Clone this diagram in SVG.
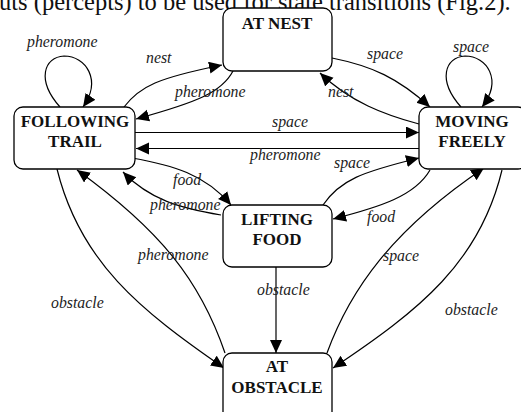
<svg xmlns="http://www.w3.org/2000/svg" width="521" height="412" viewBox="0 0 521 412">
<style>
text{font-family:'Liberation Serif','Times New Roman',Times,'DejaVu Serif',serif}
.box{fill:#fff;stroke:#000;stroke-width:1.3}
.nt{font-weight:bold;font-size:17px;text-anchor:middle;fill:#111}
.lb{font-style:italic;font-size:15.8px;fill:#222}
.e{fill:none;stroke:#000;stroke-width:1.2}
.cap{font-size:24.5px;fill:#111}
</style>
<defs>
<marker id="ah" markerWidth="14" markerHeight="13" refX="13" refY="6" orient="auto" markerUnits="userSpaceOnUse">
<path d="M0,0 L13,6 L0,12 z" fill="#000"/>
</marker>
</defs>
<rect width="521" height="412" fill="#fff"/>
<text class="cap" x="-1" y="10">uts (percepts) to be used for state transitions (Fig.2).</text>
<g id="connectors">
<path class="e" d="M60 107 C36 80 44 57 64 56 C86 56 102 80 83 107" marker-end="url(#ah)"/>
<path class="e" d="M461 107 C437 80 445 57 465 56 C487 56 503 80 482 107" marker-end="url(#ah)"/>
<path class="e" d="M124 107 C140 86 158 78 222 65" marker-end="url(#ah)"/>
<path class="e" d="M233 71 C222 92 198 102 136 119" marker-end="url(#ah)"/>
<path class="e" d="M332 58 C372 66 398 78 430 107" marker-end="url(#ah)"/>
<path class="e" d="M419 124 C385 115 350 102 320 73" marker-end="url(#ah)"/>
<path class="e" d="M135 132.5 L419 132.5" marker-end="url(#ah)"/>
<path class="e" d="M419 148.5 L136 148.5" marker-end="url(#ah)"/>
<path class="e" d="M132 158 C172 165 205 174 231 205" marker-end="url(#ah)"/>
<path class="e" d="M221 215 C180 208 150 200 123 172" marker-end="url(#ah)"/>
<path class="e" d="M323 205 C340 180 362 172 419 158" marker-end="url(#ah)"/>
<path class="e" d="M430 170 C415 196 380 207 333 219" marker-end="url(#ah)"/>
<path class="e" d="M57 169 C80 262 140 310 224 368" marker-end="url(#ah)"/>
<path class="e" d="M225 353 C200 280 160 230 77 170" marker-end="url(#ah)"/>
<path class="e" d="M276 267 L276 353" marker-end="url(#ah)"/>
<path class="e" d="M327 353 C350 290 392 230 484 168" marker-end="url(#ah)"/>
<path class="e" d="M502 170 C480 262 420 310 333 368" marker-end="url(#ah)"/>
</g>
<g id="labels">
<text class="lb" x="27" y="46.5">pheromone</text>
<text class="lb" x="146" y="63">nest</text>
<text class="lb" x="175" y="96.5">pheromone</text>
<text class="lb" x="367" y="58.5">space</text>
<text class="lb" x="453" y="51.5">space</text>
<text class="lb" x="328" y="96.5">nest</text>
<text class="lb" x="272" y="126.5">space</text>
<text class="lb" x="250" y="160">pheromone</text>
<text class="lb" x="334" y="168">space</text>
<text class="lb" x="173" y="185">food</text>
<text class="lb" x="150" y="210">pheromone</text>
<text class="lb" x="367" y="221.5">food</text>
<text class="lb" x="138" y="259.5">pheromone</text>
<text class="lb" x="383" y="260.5">space</text>
<text class="lb" x="257" y="295">obstacle</text>
<text class="lb" x="51" y="307.5">obstacle</text>
<text class="lb" x="445" y="315">obstacle</text>
</g>
<g id="at-nest">
<rect class="box" x="223" y="8" width="109" height="63" rx="9"/>
<text class="nt" x="277" y="28.5">AT NEST</text>
</g>
<g id="following-trail">
<rect class="box" x="14" y="107" width="121" height="62" rx="9"/>
<text class="nt" x="75" y="126.5">FOLLOWING</text>
<text class="nt" x="75" y="146.5">TRAIL</text>
</g>
<g id="moving-freely">
<rect class="box" x="419" y="107" width="108" height="62" rx="9"/>
<text class="nt" x="472" y="126.5">MOVING</text>
<text class="nt" x="472" y="146.5">FREELY</text>
</g>
<g id="lifting-food">
<rect class="box" x="223" y="205" width="109" height="62" rx="9"/>
<text class="nt" x="277" y="224.5">LIFTING</text>
<text class="nt" x="277" y="245">FOOD</text>
</g>
<g id="at-obstacle">
<rect class="box" x="223" y="353" width="109" height="70" rx="9"/>
<text class="nt" x="277" y="372">AT</text>
<text class="nt" x="277" y="392.5">OBSTACLE</text>
</g>
</svg>
